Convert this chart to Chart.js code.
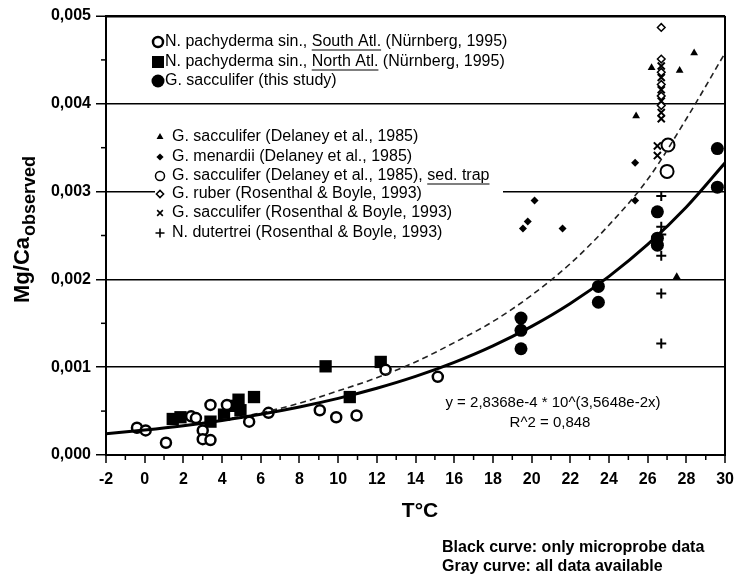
<!DOCTYPE html>
<html><head><meta charset="utf-8">
<script src="https://cdn.jsdelivr.net/npm/chart.js@4/dist/chart.umd.min.js"></script>
<style>html,body{margin:0;padding:0;background:#fff}#wrap{width:741px;height:575px;position:relative}</style>
</head><body><div id="wrap"><canvas id="c" width="741" height="575"></canvas></div>
<script>
// ---------- data ----------
const xTickLabels = [-2,0,2,4,6,8,10,12,14,16,18,20,22,24,26,28,30];
const yTickLabels = ["0,000","0,001","0,002","0,003","0,004","0,005"];

// N. pachyderma sin., South Atl. (Nürnberg, 1995)
const southT = [-0.4,0.05,1.1,2.4,2.65,3.0,3.0,3.4,3.4,4.25,5.4,6.4,9.05,9.9,10.95,12.45,15.15];
const southMg = [0.00031,0.00028,0.00014,0.00044,0.00042,0.00028,0.00018,0.00017,0.00057,0.00057,0.00038,0.00048,0.00051,0.00043,0.00045,0.00097,0.00089];
// N. pachyderma sin., North Atl. (Nürnberg, 1995)
const northT = [1.45,1.85,3.4,4.1,4.55,4.85,4.95,5.65,9.35,10.6,12.2];
const northMg = [0.00041,0.00043,0.00038,0.00046,0.00056,0.00063,0.00051,0.00066,0.00101,0.00066,0.00106];
// G. sacculifer (this study)
const thisT = [19.45,19.45,19.45,23.45,23.45,26.5,26.5,26.5,29.6,29.6];
const thisMg = [0.00156,0.00142,0.00121,0.00192,0.00174,0.00277,0.00247,0.00239,0.00349,0.00305];
// G. sacculifer (Delaney et al., 1985)
const delSaccT = [26.2,27.65,28.4,25.4,27.5];
const delSaccMg = [0.00441,0.00438,0.00458,0.00386,0.00203];
// G. menardii (Delaney et al., 1985)
const menT = [19.55,19.8,20.15,21.6,25.35,25.35];
const menMg = [0.00258,0.00266,0.00290,0.00258,0.00333,0.00290];
// G. sacculifer (Delaney et al., 1985), sed. trap
const trapT = [27.05,27.0];
const trapMg = [0.00353,0.00323];
// G. ruber (Rosenthal & Boyle, 1993)
const ruberT = [26.7,26.7,26.7,26.7,26.7,26.7];
const ruberMg = [0.00487,0.00451,0.00436,0.00422,0.00409,0.00398];
// G. sacculifer (Rosenthal & Boyle, 1993)
const rbSaccT = [26.7,26.7,26.7,26.7,26.7,26.7,26.5,26.5];
const rbSaccMg = [0.00443,0.00430,0.00416,0.00403,0.00390,0.00383,0.00352,0.00341];
// N. dutertrei (Rosenthal & Boyle, 1993)
const dutT = [26.7,26.7,26.7,26.7,26.7,26.7];
const dutMg = [0.00295,0.00260,0.00251,0.00227,0.00184,0.00127];

// Black curve (microprobe data only)
const blackT = [-2,0,2,4,6,8,10,12,14,16,18,20,22,24,26,28,30];
const blackMg = [0.000241,0.000284,0.000334,0.000394,0.000464,0.000547,0.000645,0.000760,0.000895,0.001055,0.001243,0.001465,0.001726,0.002035,0.002398,0.002825,0.003328];
// Gray curve (all data)
const grayT = [4,6,8,10,12,14,16,18,20,22,24,26,28,30];
const grayMg = [0.00040,0.00048,0.00059,0.00073,0.00088,0.00106,0.00128,0.00152,0.00182,0.00218,0.00262,0.00314,0.00383,0.00458];

const legendTop = [
  {style:'circle', r:5, bw:2.5, fill:'#fff', parts:['N. pachyderma sin., ', {u:'South Atl.'}, ' (Nürnberg, 1995)']},
  {style:'rect', r:8.5, bw:0, fill:'#000', parts:['N. pachyderma sin., ', {u:'North Atl.'}, ' (Nürnberg, 1995)']},
  {style:'circle', r:6.5, bw:0, fill:'#000', parts:['G. sacculifer (this study)']}
];
const legendBottom = [
  {style:'triangle', r:4, bw:0, fill:'#000', parts:['G. sacculifer (Delaney et al., 1985)']},
  {style:'rectRot', r:3.6, bw:0, fill:'#000', parts:['G. menardii (Delaney et al., 1985)']},
  {style:'circle', r:4.5, bw:1.5, fill:'#fff', parts:['G. sacculifer (Delaney et al., 1985), ', {u:'sed. trap'}]},
  {style:'rectRot', r:3.6, bw:1.5, fill:'#fff', parts:['G. ruber (Rosenthal & Boyle, 1993)']},
  {style:'crossRot', r:4, bw:1.6, fill:'#fff', parts:['G. sacculifer (Rosenthal & Boyle, 1993)']},
  {style:'cross', r:4.5, bw:1.6, fill:'#fff', parts:['N. dutertrei (Rosenthal & Boyle, 1993)']}
];

// ---------- chart ----------
const FF = '"Liberation Sans", Arial, Helvetica, sans-serif';
const pts = (xs, ys) => xs.map((x,i)=>({x:x, y:ys[i]}));

function ptDs(label, xs, ys, style, r, bg, bw) {
  return {label, data: pts(xs,ys), pointStyle: style, pointRadius: r, pointBackgroundColor: bg,
    pointBorderColor: '#000', pointBorderWidth: bw, showLine: false};
}

const extras = {
  id: 'extras',
  beforeDatasetsDraw(chart) {
    const ctx = chart.ctx;
    ctx.save();
    // white box behind lower legend block (interrupts the 0,003 grid line)
    ctx.fillStyle = '#fff';
    ctx.fillRect(155, 126, 348, 118);
    ctx.fillStyle = '#000';
    ctx.strokeStyle = '#000';
    ctx.textBaseline = 'middle';
    ctx.textAlign = 'left';
    ctx.font = '16px ' + FF;
    function drawEntry(e, mx, tx, y) {
      ctx.fillStyle = e.fill; ctx.strokeStyle = '#000'; ctx.lineWidth = e.bw;
      Chart.helpers.drawPoint(ctx, {pointStyle: e.style, radius: e.r, borderWidth: e.bw, rotation: 0}, mx, y);
      ctx.fillStyle = '#000';
      let x = tx;
      e.parts.forEach(p => {
        const t = typeof p === 'string' ? p : p.u;
        ctx.fillText(t, x, y);
        const w = ctx.measureText(t).width;
        if (typeof p !== 'string') {
          ctx.lineWidth = 1.2;
          ctx.beginPath(); ctx.moveTo(x, y + 8); ctx.lineTo(x + w, y + 8); ctx.stroke();
        }
        x += w;
      });
    }
    const topY = [42, 62, 81];
    legendTop.forEach((e,i) => drawEntry(e, 158, 165, topY[i]));
    const botY = [137, 157, 176, 194, 213, 233];
    legendBottom.forEach((e,i) => drawEntry(e, 160, 172, botY[i]));
    ctx.restore();
  },
  afterDraw(chart) {
    const ctx = chart.ctx, xs = chart.scales.x, ys = chart.scales.y;
    const a = chart.chartArea;
    ctx.save();
    ctx.strokeStyle = '#000';
    ctx.lineWidth = 1.5;
    // minor ticks
    for (let v = -1; v < 30; v += 2) {
      const px = xs.getPixelForValue(v);
      ctx.beginPath(); ctx.moveTo(px, a.bottom); ctx.lineTo(px, a.bottom + 5); ctx.stroke();
    }
    for (let k = 0; k < 5; k++) {
      const py = ys.getPixelForValue(0.0005 + k * 0.001);
      ctx.beginPath(); ctx.moveTo(a.left - 5, py); ctx.lineTo(a.left, py); ctx.stroke();
    }
    ctx.fillStyle = '#000';
    // y-axis title with subscript
    ctx.save();
    ctx.translate(29, 303);
    ctx.rotate(-Math.PI / 2);
    ctx.textAlign = 'left'; ctx.textBaseline = 'alphabetic';
    ctx.font = 'bold 22px ' + FF;
    ctx.fillText('Mg/Ca', 0, 0);
    const w1 = ctx.measureText('Mg/Ca').width;
    ctx.font = 'bold 18px ' + FF;
    ctx.fillText('observed', w1 + 1, 6);
    ctx.restore();
    // x-axis title
    ctx.textAlign = 'center'; ctx.textBaseline = 'middle';
    ctx.font = 'bold 21px ' + FF;
    ctx.fillText('T°C', 420, 511);
    // equation
    ctx.font = '15px ' + FF;
    ctx.fillText('y = 2,8368e-4 * 10^(3,5648e-2x)', 553, 403);
    ctx.fillText('R^2 = 0,848', 550, 423);
    // notes
    ctx.textAlign = 'left';
    ctx.font = 'bold 16px ' + FF;
    ctx.fillText('Black curve: only microprobe data', 442, 548);
    ctx.fillText('Gray curve: all data available', 442, 567);
    ctx.restore();
  }
};

new Chart(document.getElementById('c'), {
  type: 'scatter',
  data: {
    datasets: [
      {label:'Black curve', data: pts(blackT, blackMg), showLine: true, borderColor:'#000', borderWidth: 3,
        pointRadius: 0, tension: 0.4, cubicInterpolationMode: 'monotone', fill: false},
      {label:'Gray curve', data: pts(grayT, grayMg), showLine: true, borderColor:'#222', borderWidth: 1.6,
        borderDash: [6,4], pointRadius: 0, tension: 0.4, cubicInterpolationMode: 'monotone', fill: false},
      ptDs('N. pachyderma sin., South Atl.', southT, southMg, 'circle', 5, '#fff', 2.5),
      ptDs('N. pachyderma sin., North Atl.', northT, northMg, 'rect', 8.7, '#000', 0),
      ptDs('G. sacculifer (this study)', thisT, thisMg, 'circle', 6.5, '#000', 0),
      ptDs('G. sacculifer (Delaney)', delSaccT, delSaccMg, 'triangle', 4.5, '#000', 0),
      ptDs('G. menardii (Delaney)', menT, menMg, 'rectRot', 4, '#000', 0),
      ptDs('G. sacculifer sed. trap', trapT, trapMg, 'circle', 6.5, '#fff', 2),
      ptDs('G. ruber', ruberT, ruberMg, 'rectRot', 3.8, '#fff', 1.5),
      ptDs('G. sacculifer (R&B)', rbSaccT, rbSaccMg, 'crossRot', 5, '#fff', 2),
      ptDs('N. dutertrei', dutT, dutMg, 'cross', 5, '#fff', 2)
    ]
  },
  options: {
    responsive: false,
    animation: false,
    events: [],
    layout: {padding: {top: 16, right: 10, left: 0, bottom: 0}},
    plugins: {legend: {display: false}, tooltip: {enabled: false}},
    scales: {
      x: {
        type: 'linear', min: -2, max: 30,
        afterFit: s => { s.height = 120; },
        afterBuildTicks: s => { s.ticks = xTickLabels.map(v => ({value: v})); },
        ticks: {color:'#000', font: {family: FF, size: 16, weight: 'bold'}, padding: 7, maxRotation: 0,
          callback: v => String(v)},
        grid: {drawOnChartArea: true, color: c => (c.tick && c.tick.value === 30) ? '#000' : 'rgba(0,0,0,0)',
          lineWidth: 2, tickColor: '#000', tickLength: 8, tickWidth: 1.5},
        border: {display: true, color: '#000', width: 2}
      },
      y: {
        type: 'linear', min: 0, max: 0.005,
        afterFit: s => { s.width = 106; },
        afterBuildTicks: s => { s.ticks = yTickLabels.map((t,i) => ({value: i * 0.001})); },
        ticks: {color:'#000', font: {family: FF, size: 16, weight: 'bold'}, padding: 5,
          callback: (v, i) => yTickLabels[i]},
        grid: {drawOnChartArea: true, color: '#000', lineWidth: c => (c.tick && c.tick.value >= 0.0049) ? 2.5 : 1.5,
          tickColor: '#000', tickLength: 10, tickWidth: 1.5},
        border: {display: true, color: '#000', width: 2}
      }
    }
  },
  plugins: [extras]
});
</script>
</body></html>
